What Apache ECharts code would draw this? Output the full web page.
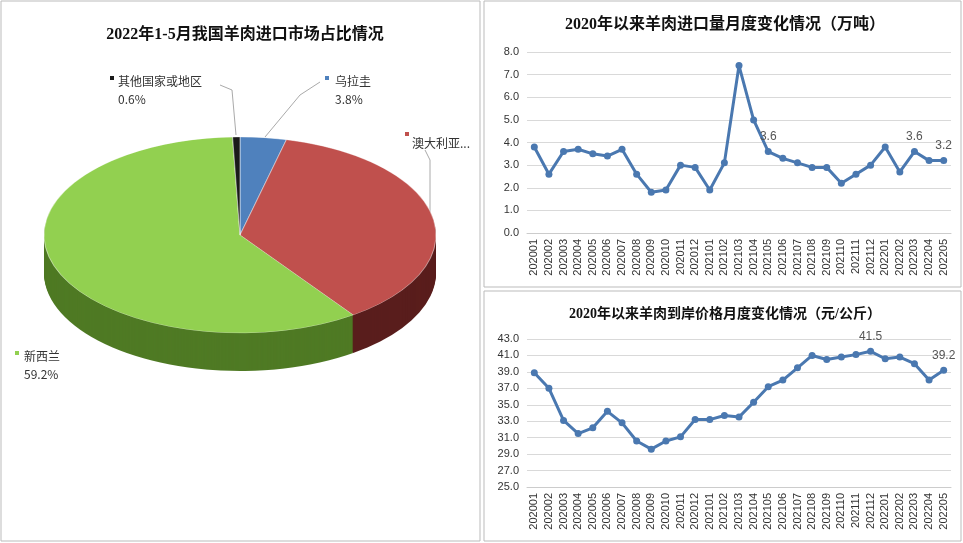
<!DOCTYPE html>
<html><head><meta charset="utf-8">
<script src="https://cdn.jsdelivr.net/npm/echarts@6/dist/echarts.min.js"></script>
<style>
body{margin:0;background:#fff}
#main{position:absolute;left:0;top:0;width:963px;height:543px}
#pie{position:absolute;left:40px;top:135px;width:400px;height:500px;transform:scaleY(0.5);transform-origin:50% 0}
</style></head><body>
<div id="main"></div><div id="pie"></div>
<script>
var months = ['202001','202002','202003','202004','202005','202006','202007','202008','202009','202010','202011','202012',
  '202101','202102','202103','202104','202105','202106','202107','202108','202109','202110','202111','202112',
  '202201','202202','202203','202204','202205'];
var volume = [3.8,2.6,3.6,3.7,3.5,3.4,3.7,2.6,1.8,1.9,3.0,2.9,1.9,3.1,7.4,5.0,3.6,3.3,3.1,2.9,2.9,2.2,2.6,3.0,3.8,2.7,3.6,3.2,3.2];
var price = [38.9,37.0,33.1,31.5,32.2,34.2,32.8,30.6,29.6,30.6,31.1,33.2,33.2,33.7,33.5,35.3,37.2,38.0,39.5,41.0,40.5,40.8,41.1,41.5,40.6,40.8,40.0,38.0,39.2];
var volLabelIdx = [16,26,28];
var priceLabelIdx = [23,28];
var pieNames = ['乌拉圭','澳大利亚','新西兰','其他国家或地区'];
var pieValues = [3.8,36.4,59.2,0.6];
var pieTop = ['#4f81bd','#c0504d','#92d050','#1a1a1a'];
var pieSide = ['#2c4a70','#5a1e1d','#4f7a24','#111'];

var lineColor = '#4a78b0';
function pts(vals, idx){
  return vals.map(function(v,i){
    return idx.indexOf(i) >= 0 ? {value:v,label:{show:true,position:'top',formatter:v.toFixed(1)}} : v;
  });
}
function lineSeries(x, vals, idx){
  return {type:'line',xAxisIndex:x,yAxisIndex:x,data:pts(vals,idx),symbol:'circle',symbolSize:7,
    lineStyle:{color:lineColor,width:3},itemStyle:{color:lineColor},
    label:{color:'#555',fontSize:12,fontFamily:'Arial'}};
}
var axisLab = {color:'#333',fontSize:11,fontFamily:'Liberation Sans'};
var titleStyle = {fontFamily:'Liberation Serif, Noto Sans CJK SC',fontWeight:'bold',fontSize:16,color:'#111'};

var main = echarts.init(document.getElementById('main'));
main.setOption({
  animation:false,
  backgroundColor:'#fff',
  title:[
    {text:'2022年1-5月我国羊肉进口市场占比情况',left:240,top:22,textAlign:'center',textStyle:titleStyle},
    {text:'2020年以来羊肉进口量月度变化情况（万吨）',left:720,top:12,textAlign:'center',textStyle:titleStyle},
    {text:'2020年以来羊肉到岸价格月度变化情况（元/公斤）',left:720,top:302,textAlign:'center',textStyle:Object.assign({},titleStyle,{fontSize:14})}
  ],
  graphic:[
    {type:'rect',shape:{x:1,y:1,width:479,height:540},style:{fill:'none',stroke:'#bbb'}},
    {type:'rect',shape:{x:484,y:1,width:477,height:286},style:{fill:'none',stroke:'#bbb'}},
    {type:'rect',shape:{x:484,y:291,width:477,height:250},style:{fill:'none',stroke:'#bbb'}},
    {type:'text',left:118,top:72,style:{text:'其他国家或地区\n0.6%',fill:'#333',fontSize:12,lineHeight:18,fontFamily:'Noto Sans CJK SC'}},
    {type:'text',left:335,top:72,style:{text:'乌拉圭\n3.8%',fill:'#333',fontSize:12,lineHeight:18,fontFamily:'Noto Sans CJK SC'}},
    {type:'text',left:412,top:137,style:{text:'澳大利亚...',fill:'#333',fontSize:12,fontFamily:'Noto Sans CJK SC'}},
    {type:'text',left:24,top:347,style:{text:'新西兰\n59.2%',fill:'#333',fontSize:12,lineHeight:18,fontFamily:'Noto Sans CJK SC'}},
    {type:'rect',shape:{x:110,y:76,width:4,height:4},style:{fill:'#1a1a1a'}},
    {type:'rect',shape:{x:325,y:76,width:4,height:4},style:{fill:'#4f81bd'}},
    {type:'rect',shape:{x:405,y:132,width:4,height:4},style:{fill:'#c0504d'}},
    {type:'rect',shape:{x:15,y:351,width:4,height:4},style:{fill:'#92d050'}},
    {type:'polyline',shape:{points:[[220,85],[232,90],[236,135]]},style:{stroke:'#aaa',fill:'none'}},
    {type:'polyline',shape:{points:[[320,82],[300,95],[265,137]]},style:{stroke:'#aaa',fill:'none'}},
    {type:'polyline',shape:{points:[[425,150],[430,160],[430,215]]},style:{stroke:'#aaa',fill:'none'}}
  ],
  grid:[
    {left:527,right:12,top:52,height:181},
    {left:527,right:12,top:339,height:148}
  ],
  xAxis:[0,1].map(function(i){return {type:'category',gridIndex:i,data:months,boundaryGap:true,
    axisLine:{lineStyle:{color:'#ccc'}},axisTick:{show:false},
    axisLabel:Object.assign({rotate:90,interval:0,margin:6},axisLab)};}),
  yAxis:[
    {type:'value',gridIndex:0,min:0,max:8,interval:1,axisLabel:Object.assign({formatter:function(v){return v.toFixed(1);}},axisLab),
      splitLine:{lineStyle:{color:'#d9d9d9'}}},
    {type:'value',gridIndex:1,min:25,max:43,interval:2,axisLabel:Object.assign({formatter:function(v){return v.toFixed(1);}},axisLab),
      splitLine:{lineStyle:{color:'#d9d9d9'}}}
  ],
  series:[lineSeries(0,volume,volLabelIdx),lineSeries(1,price,priceLabelIdx)]
});

// pie drawn flat and squashed by the div; side built from darker copies shifted down
var pie = echarts.init(document.getElementById('pie'));
var pieSeries = [];
for (var k = 76; k > 0; k -= 2) {
  pieSeries.push({type:'pie',radius:[0,196],center:[200,200+k],startAngle:90,label:{show:false},silent:true,
    data:pieNames.map(function(n,i){return {name:n,value:pieValues[i],itemStyle:{color:pieSide[i]}};})});
}
pieSeries.push({type:'pie',radius:[0,196],center:[200,200],startAngle:90,label:{show:false},
  itemStyle:{borderColor:'#fff',borderWidth:0.5},
  data:pieNames.map(function(n,i){return {name:n,value:pieValues[i],itemStyle:{color:pieTop[i]}};})});
pie.setOption({animation:false,series:pieSeries});
</script></body></html>
